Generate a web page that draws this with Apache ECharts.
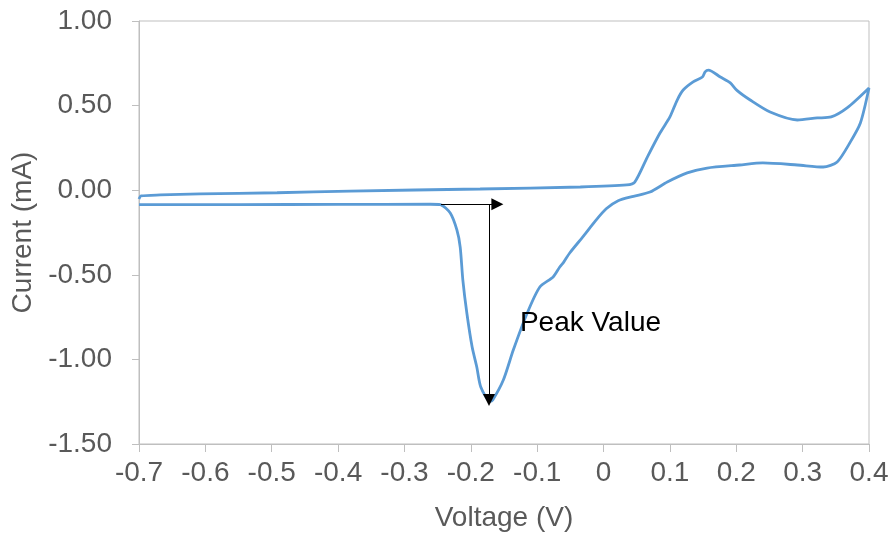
<!DOCTYPE html>
<html>
<head>
<meta charset="utf-8">
<script src="https://cdn.jsdelivr.net/npm/echarts@6/dist/echarts.min.js"></script>
<style>
  html, body { margin: 0; padding: 0; background: #fff; }
  #one { width: 894px; height: 539px; }
</style>
</head>
<body>
<div id="one"></div>
<script>
// forward scan (upper branch), -0.7 V -> 0.4 V
var forwardV = [-0.700, -0.697, -0.668, -0.608, -0.492, -0.382, -0.186, -0.035, 0.035, 0.047,
                0.066, 0.085, 0.100, 0.111, 0.120, 0.135, 0.149, 0.153, 0.158, 0.176,
                0.191, 0.201, 0.221, 0.251, 0.292, 0.322, 0.343, 0.367, 0.400];
var forwardI = [-0.052, -0.034, -0.028, -0.022, -0.015, -0.005, 0.007, 0.019, 0.031, 0.048,
                0.196, 0.338, 0.433, 0.533, 0.592, 0.640, 0.669, 0.699, 0.710, 0.669,
                0.634, 0.590, 0.533, 0.462, 0.415, 0.427, 0.433, 0.486, 0.604];
// reverse scan (lower branch), 0.4 V -> -0.7 V
var reverseV = [0.387, 0.371, 0.352, 0.331, 0.292, 0.240, 0.205, 0.156, 0.126, 0.096,
                0.070, 0.045, 0.022, 0.004, -0.012, -0.030, -0.051, -0.060, -0.066, -0.076, -0.096,
                -0.115, -0.136, -0.151, -0.167, -0.171, -0.185, -0.191, -0.198, -0.206, -0.212,
                -0.216, -0.221, -0.231, -0.246, -0.261, -0.400, -0.550, -0.700];
var reverseI = [0.397, 0.279, 0.167, 0.137, 0.149, 0.161, 0.149, 0.131, 0.102, 0.048,
                -0.011, -0.036, -0.062, -0.110, -0.180, -0.270, -0.371, -0.425, -0.454, -0.513, -0.572,
                -0.726, -0.945, -1.122, -1.240, -1.248, -1.163, -1.045, -0.927, -0.726, -0.531,
                -0.336, -0.235, -0.135, -0.085, -0.083, -0.084, -0.085, -0.085];

var peakBaseV = [-0.245, -0.160];   // horizontal arrow
var peakArrowV = -0.1726;           // vertical arrow
var peakBaseI = -0.083;
var peakI = -1.240;
var peakLabel = 'Peak Value';

var cvData = [];
for (var i = 0; i < forwardV.length; i++) cvData.push([forwardV[i], forwardI[i]]);
for (var j = 0; j < reverseV.length; j++) cvData.push([reverseV[j], reverseI[j]]);

var myChart = echarts.init(document.getElementById('one'));
var labelFont = '"Liberation Sans", Arial, sans-serif';

option = {
    animation: false,
    grid: {
        left: 139, right: 25, top: 21, bottom: 95,
        show: true,
        borderColor: '#bfbfbf',
        borderWidth: 1
    },
    xAxis: {
        type: 'value',
        min: -0.7,
        max: 0.4,
        interval: 0.1,
        name: 'Voltage (V)',
        nameLocation: 'middle',
        nameGap: 60,
        nameTextStyle: { color: '#595959', fontSize: 28, fontFamily: labelFont },
        axisLine: { show: true, onZero: false, lineStyle: { color: '#bfbfbf' } },
        axisTick: { show: true, length: 8, lineStyle: { color: '#bfbfbf' } },
        axisLabel: {
            color: '#595959', fontSize: 28, fontFamily: labelFont, margin: 15,
            formatter: function (v) { return String(Number(v.toFixed(1))); }
        },
        splitLine: { show: false }
    },
    yAxis: {
        type: 'value',
        min: -1.5,
        max: 1,
        interval: 0.5,
        name: 'Current (mA)',
        nameLocation: 'middle',
        nameGap: 98,
        nameTextStyle: { color: '#595959', fontSize: 28, fontFamily: labelFont },
        axisLine: { show: true, onZero: false, lineStyle: { color: '#bfbfbf' } },
        axisTick: { show: true, length: 7, lineStyle: { color: '#bfbfbf' } },
        axisLabel: {
            color: '#595959', fontSize: 28, fontFamily: labelFont, margin: 27,
            formatter: function (v) { return v.toFixed(2); }
        },
        splitLine: { show: false }
    },
    series: [
        {
            name: 'CV',
            type: 'line',
            data: cvData,
            showSymbol: false,
            smooth: 0.25,
            lineStyle: { color: '#5b9bd5', width: 2.8 },
            markLine: {
                silent: true,
                symbolSize: [12, 12],
                lineStyle: { color: '#000', width: 1, type: 'solid' },
                label: { show: false },
                data: [
                    [
                        { coord: [peakBaseV[0], peakBaseI], symbol: 'none' },
                        { coord: [peakBaseV[1], peakBaseI], symbol: 'triangle' }
                    ],
                    [
                        { coord: [peakArrowV, peakBaseI], symbol: 'none' },
                        { coord: [peakArrowV, peakI], symbol: 'triangle' }
                    ]
                ]
            },
            markPoint: {
                silent: true,
                symbol: 'circle',
                symbolSize: 0,
                label: {
                    show: true,
                    position: 'right',
                    distance: 0,
                    color: '#000',
                    fontSize: 28,
                    fontFamily: labelFont,
                    formatter: peakLabel
                },
                data: [{ coord: [-0.126, -0.785] }]
            }
        }
    ]
};
myChart.setOption(option);
</script>
</body>
</html>
